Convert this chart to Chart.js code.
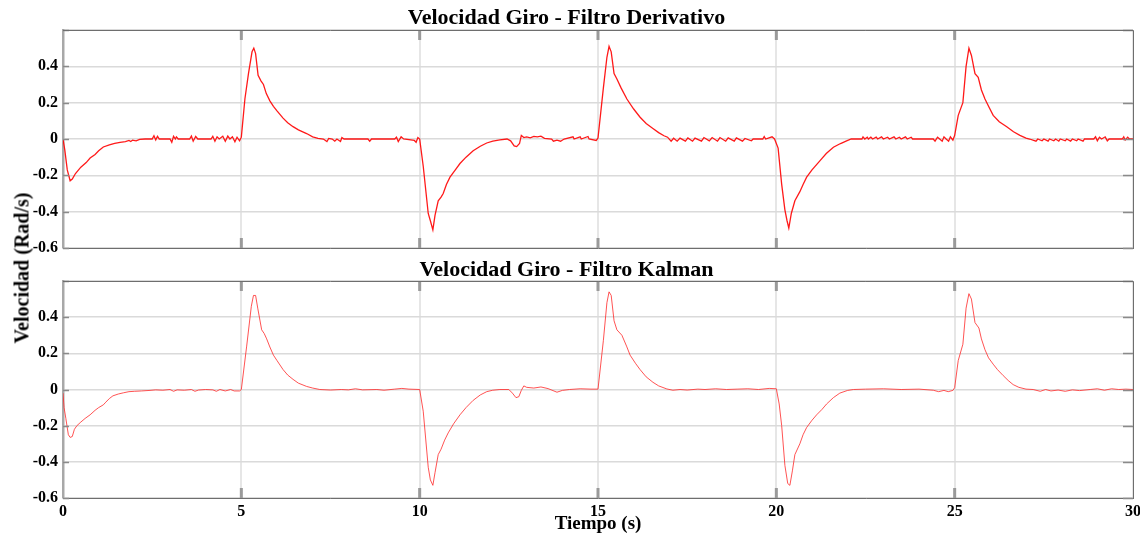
<!DOCTYPE html>
<html lang="es">
<head>
<meta charset="utf-8">
<title>Velocidad Giro</title>
<script src="https://cdn.jsdelivr.net/npm/chart.js@4.4.1/dist/chart.umd.min.js"></script>
<style>
  html, body { margin: 0; padding: 0; background: #fff; }
  #wrap { position: relative; width: 1140px; height: 538px; overflow: hidden; }
  #topCanvas { position: absolute; left: 0; top: 0; }
  #botCanvas { position: absolute; left: 0; top: 255px; }
  #yTitle {
    position: absolute; left: 22px; top: 268px;
    transform: translate(-50%, -50%) rotate(-90deg);
    font: bold 20px "Liberation Serif", "Times New Roman", serif;
    white-space: nowrap; color: #000;
  }
</style>
</head>
<body>
<div id="wrap">
  <canvas id="topCanvas" width="1140" height="255"></canvas>
  <canvas id="botCanvas" width="1140" height="283"></canvas>
  <div id="yTitle">Velocidad (Rad/s)</div>
</div>
<script>
// --- Data
const titles = ['Velocidad Giro - Filtro Derivativo', 'Velocidad Giro - Filtro Kalman'];
const xTitle = 'Tiempo (s)';
const xTicks = [0, 5, 10, 15, 20, 25, 30];
const yTicks = [-0.6, -0.4, -0.2, 0, 0.2, 0.4, 0.6];

// derivative filter: time (s) and rate (rad/s)
const derivT = [
  0.00, 0.05, 0.12, 0.20, 0.26, 0.35, 0.50, 0.65, 0.76, 0.90, 1.00, 1.13, 1.30, 1.45, 1.60, 1.75, 1.85, 1.90, 1.95, 2.05,
  2.15, 2.30, 2.50, 2.55, 2.60, 2.65, 2.70, 3.00, 3.05, 3.10, 3.15, 3.18, 3.23, 3.55, 3.60, 3.65, 3.72, 3.78, 4.15, 4.20,
  4.26, 4.32, 4.38, 4.48, 4.55, 4.62, 4.68, 4.75, 4.82, 4.88, 4.95, 5.00, 5.10, 5.20, 5.30, 5.35, 5.40, 5.47, 5.55, 5.62,
  5.70, 5.80, 5.90, 6.00, 6.17, 6.30, 6.45, 6.60, 6.83, 7.00, 7.15, 7.30, 7.40, 7.45, 7.55, 7.62, 7.68, 7.78, 7.82, 7.88,
  8.55, 8.60, 8.65, 9.30, 9.35, 9.40, 9.48, 9.55, 9.85, 9.90, 9.95, 10.00, 10.10, 10.24, 10.30, 10.37, 10.43, 10.52, 10.60, 10.66,
  10.75, 10.85, 11.00, 11.13, 11.30, 11.50, 11.70, 11.88, 12.05, 12.25, 12.45, 12.55, 12.65, 12.72, 12.80, 12.85, 12.92, 13.00, 13.10, 13.20,
  13.30, 13.40, 13.50, 13.70, 13.75, 13.85, 13.95, 14.05, 14.30, 14.33, 14.50, 14.53, 14.72, 14.75, 14.95, 15.00, 15.15, 15.25, 15.31, 15.37,
  15.45, 15.53, 15.65, 15.81, 16.00, 16.18, 16.35, 16.54, 16.70, 16.85, 16.95, 17.05, 17.12, 17.22, 17.30, 17.45, 17.52, 17.65, 17.72, 17.90,
  17.97, 18.12, 18.20, 18.35, 18.42, 18.58, 18.65, 18.82, 18.88, 19.05, 19.12, 19.30, 19.35, 19.62, 19.66, 19.70, 19.88, 19.95, 20.05, 20.15,
  20.24, 20.30, 20.35, 20.42, 20.52, 20.66, 20.75, 20.85, 21.00, 21.22, 21.40, 21.60, 21.80, 21.97, 22.10, 22.40, 22.43, 22.48, 22.55, 22.58,
  22.65, 22.70, 22.80, 22.84, 22.95, 23.00, 23.12, 23.17, 23.30, 23.35, 23.45, 23.50, 23.62, 23.67, 23.78, 23.82, 24.40, 24.45, 24.52, 24.58,
  24.65, 24.70, 24.76, 24.83, 24.88, 24.95, 25.00, 25.10, 25.23, 25.32, 25.40, 25.47, 25.57, 25.66, 25.75, 25.85, 25.95, 26.08, 26.25, 26.46,
  26.65, 26.83, 27.00, 27.10, 27.28, 27.33, 27.45, 27.50, 27.62, 27.66, 27.78, 27.83, 27.92, 27.96, 28.10, 28.14, 28.25, 28.30, 28.42, 28.46,
  28.60, 28.64, 28.90, 28.95, 29.00, 29.06, 29.12, 29.22, 29.28, 29.33, 29.70, 29.74, 29.78, 29.85, 29.90, 30.00
];
const derivV = [
  0.00, -0.06, -0.17, -0.23, -0.22, -0.19, -0.155, -0.13, -0.105, -0.085, -0.065, -0.044, -0.032, -0.024, -0.018, -0.014, -0.008, -0.014, -0.006, -0.010,
  -0.002, 0, 0, 0.018, -0.005, 0.015, 0, 0, -0.018, 0.015, 0, 0.012, 0, 0, 0.016, -0.012, 0.014, 0, 0, 0.015,
  -0.012, 0.012, 0, 0.015, -0.012, 0.016, 0, 0.012, -0.015, 0.01, -0.01, 0.01, 0.22, 0.36, 0.48, 0.50, 0.47, 0.35, 0.32, 0.30,
  0.25, 0.21, 0.18, 0.155, 0.115, 0.09, 0.068, 0.05, 0.03, 0.012, 0.004, 0, -0.014, 0.003, 0, -0.012, 0, -0.014, 0.008, 0,
  0, -0.012, 0, 0, 0.01, -0.014, 0.012, 0, -0.008, -0.018, 0.008, 0, -0.15, -0.41, -0.45, -0.50, -0.42, -0.34, -0.32, -0.30,
  -0.25, -0.21, -0.17, -0.135, -0.10, -0.065, -0.04, -0.022, -0.012, -0.005, 0, -0.01, -0.038, -0.042, -0.025, 0.02, 0.008, 0.012, 0.006, 0.014,
  0.012, 0.016, 0.004, 0, -0.012, -0.006, -0.012, 0, 0.012, 0, 0.012, 0, 0.014, 0, -0.008, 0.005, 0.28, 0.45, 0.51, 0.48,
  0.36, 0.33, 0.28, 0.22, 0.165, 0.12, 0.085, 0.058, 0.035, 0.018, 0.01, -0.012, 0.004, -0.012, 0.005, -0.012, 0.006, -0.012, 0.005, -0.012,
  0.008, -0.01, 0.008, -0.012, 0.008, -0.012, 0.006, -0.012, 0.006, -0.012, 0.003, -0.01, 0, 0, 0.014, 0, 0.012, 0, -0.05, -0.25,
  -0.39, -0.45, -0.49, -0.41, -0.34, -0.29, -0.25, -0.21, -0.17, -0.12, -0.08, -0.045, -0.025, -0.01, 0, 0, 0.012, 0, 0.01, 0,
  0.01, 0, 0.01, 0, 0.012, 0, 0.01, 0, 0.012, 0, 0.01, 0, 0.012, 0, 0.01, 0, 0, -0.012, 0.01, 0,
  -0.012, 0.012, 0, -0.012, 0.012, -0.006, 0.02, 0.13, 0.20, 0.40, 0.50, 0.46, 0.36, 0.34, 0.27, 0.22, 0.18, 0.13, 0.095, 0.067,
  0.04, 0.02, 0.005, 0, -0.012, 0, -0.01, 0, -0.012, 0, -0.01, 0, -0.012, 0, -0.01, 0, -0.012, 0, -0.01, 0,
  -0.012, 0, 0, 0.012, -0.01, 0.01, 0, 0.012, -0.01, 0, 0, 0.012, -0.006, 0.01, 0, 0
];

// kalman filter: time (s) and rate (rad/s)
const kalmanT = [
  0.00, 0.03, 0.08, 0.15, 0.20, 0.26, 0.32, 0.39, 0.50, 0.62, 0.76, 0.90, 1.00, 1.13, 1.20, 1.30, 1.40, 1.55, 1.70, 1.85,
  2.00, 2.20, 2.44, 2.60, 2.80, 3.00, 3.10, 3.20, 3.40, 3.60, 3.70, 3.80, 4.00, 4.20, 4.30, 4.40, 4.55, 4.70, 4.80, 4.95,
  5.00, 5.15, 5.28, 5.34, 5.40, 5.46, 5.57, 5.64, 5.71, 5.80, 5.90, 6.00, 6.17, 6.30, 6.45, 6.60, 6.83, 7.00, 7.20, 7.50,
  7.80, 8.00, 8.20, 8.40, 8.80, 9.00, 9.30, 9.50, 9.70, 10.00, 10.10, 10.24, 10.30, 10.37, 10.43, 10.52, 10.60, 10.70, 10.80, 10.95,
  11.13, 11.30, 11.50, 11.70, 11.88, 12.05, 12.25, 12.50, 12.60, 12.70, 12.78, 12.85, 12.92, 13.00, 13.20, 13.40, 13.60, 13.85, 14.00, 14.20,
  14.50, 14.80, 15.00, 15.15, 15.25, 15.31, 15.37, 15.45, 15.53, 15.67, 15.80, 15.90, 16.05, 16.18, 16.35, 16.54, 16.70, 16.93, 17.10, 17.30,
  17.50, 17.80, 18.00, 18.30, 18.60, 18.90, 19.20, 19.50, 19.80, 20.00, 20.08, 20.15, 20.24, 20.32, 20.38, 20.45, 20.52, 20.66, 20.75, 20.85,
  21.00, 21.13, 21.28, 21.41, 21.60, 21.78, 22.00, 22.16, 22.50, 23.00, 23.50, 24.00, 24.40, 24.55, 24.70, 24.82, 24.95, 25.00, 25.10, 25.23,
  25.32, 25.40, 25.47, 25.57, 25.68, 25.75, 25.85, 25.95, 26.08, 26.20, 26.36, 26.50, 26.64, 26.80, 27.00, 27.20, 27.40, 27.55, 27.70, 27.90,
  28.10, 28.30, 28.50, 28.80, 29.00, 29.20, 29.40, 29.60, 29.80, 30.00
];
const kalmanV = [
  -0.02, -0.10, -0.16, -0.25, -0.265, -0.26, -0.22, -0.20, -0.18, -0.16, -0.14, -0.115, -0.10, -0.085, -0.07, -0.05, -0.035, -0.025, -0.018, -0.012,
  -0.01, -0.008, -0.005, -0.002, -0.004, 0, -0.01, -0.002, -0.004, 0, -0.01, -0.003, 0, -0.002, -0.01, 0, -0.008, 0, -0.008, -0.008,
  0, 0.24, 0.46, 0.52, 0.52, 0.45, 0.33, 0.31, 0.28, 0.235, 0.19, 0.16, 0.11, 0.08, 0.056, 0.035, 0.017, 0.008, 0, -0.003,
  0, -0.002, 0.004, -0.002, 0, -0.004, 0.002, 0.006, 0.002, 0, -0.12, -0.43, -0.50, -0.53, -0.46, -0.36, -0.33, -0.28, -0.24, -0.19,
  -0.14, -0.10, -0.06, -0.03, -0.012, -0.004, 0, 0, -0.02, -0.045, -0.04, -0.005, 0.02, 0.012, 0.008, 0.014, 0.005, -0.015, -0.005, 0,
  0.004, 0.002, 0.002, 0.27, 0.48, 0.54, 0.52, 0.38, 0.33, 0.30, 0.24, 0.19, 0.145, 0.11, 0.07, 0.04, 0.02, 0.003, -0.004, 0,
  -0.003, 0.002, 0, 0.004, 0, 0.002, 0.004, 0, 0.006, 0.004, -0.08, -0.20, -0.42, -0.52, -0.53, -0.45, -0.36, -0.30, -0.25, -0.21,
  -0.17, -0.14, -0.11, -0.08, -0.045, -0.02, -0.005, 0, 0.002, 0.004, 0, 0.002, -0.004, -0.012, -0.005, -0.012, -0.005, 0.01, 0.16, 0.25,
  0.45, 0.53, 0.50, 0.37, 0.34, 0.28, 0.22, 0.175, 0.14, 0.11, 0.077, 0.05, 0.027, 0.012, 0.002, 0, -0.01, 0, -0.008, -0.003,
  -0.01, -0.002, -0.006, 0, 0.004, -0.004, 0.004, 0, 0.002, 0
];

// --- Helpers
const SERIF = '"Liberation Serif", "Times New Roman", serif';

function fmtTick(v) {
  const r = Math.round(v * 10) / 10;
  if (r === 0) return '0';
  if (Math.abs(r - 0.6) < 1e-9) return '';   // top tick has no label
  return r.toFixed(1);
}

// box around the plot + small inner tick marks (matlab style)
const boxPlugin = {
  id: 'box',
  afterDatasetsDraw(chart) {
    const { ctx, chartArea: a, scales: { x, y } } = chart;
    ctx.save();
    ctx.strokeStyle = '#9a9a9a';
    ctx.lineWidth = 3;
    ctx.beginPath();
    xTicks.forEach(t => {
      if (t === 0 || t === 30) return;
      const px = x.getPixelForValue(t);
      ctx.moveTo(px, a.top); ctx.lineTo(px, a.top + 10);
      ctx.moveTo(px, a.bottom); ctx.lineTo(px, a.bottom - 10);
    });
    ctx.stroke();
    ctx.lineWidth = 1.5;
    ctx.strokeStyle = '#8a8a8a';
    ctx.beginPath();
    yTicks.forEach(t => {
      const py = Math.round(y.getPixelForValue(t)) + 0.5;
      ctx.moveTo(a.left, py); ctx.lineTo(a.left + 6, py);
      ctx.moveTo(a.right, py); ctx.lineTo(a.right - 10, py);
    });
    ctx.stroke();
    ctx.strokeStyle = '#6e6e6e';
    ctx.lineWidth = 1;
    ctx.beginPath();
    ctx.moveTo(a.left, a.top + 0.5); ctx.lineTo(a.right + 0.5, a.top + 0.5);
    ctx.lineTo(a.right + 0.5, a.bottom);
    ctx.stroke();
    ctx.restore();
  }
};

function makeChart(canvasId, title, t, v, color, width, isBottom) {
  const ctx = document.getElementById(canvasId).getContext('2d');
  return new Chart(ctx, {
    type: 'line',
    data: {
      datasets: [{
        data: t.map((tt, i) => ({ x: tt, y: v[i] })),
        borderColor: color,
        borderWidth: width,
        pointRadius: 0,
        tension: 0,
        fill: false
      }]
    },
    options: {
      responsive: false,
      animation: false,
      devicePixelRatio: 1,
      layout: { padding: { left: 0, right: 7, top: 0, bottom: 0 } },
      plugins: {
        legend: { display: false },
        tooltip: { enabled: false },
        title: {
          display: true,
          text: title,
          color: '#000',
          font: { family: SERIF, size: 22, weight: 'bold', lineHeight: 1.0 },
          padding: isBottom ? { top: 4, bottom: 0 } : { top: 7, bottom: 1 }
        }
      },
      scales: {
        x: {
          type: 'linear',
          min: 0, max: 30,
          afterBuildTicks: s => { s.ticks = xTicks.map(value => ({ value })); },
          afterFit: s => {
            s.height = isBottom ? 40 : 7;
            s.paddingLeft = 0; s.paddingRight = 0;
          },
          grid: { color: '#e6e6e6', lineWidth: 2, drawTicks: false },
          border: { color: '#6e6e6e', width: 1 },
          ticks: {
            display: isBottom,
            padding: 4,
            color: '#000',
            font: { family: SERIF, size: 16, weight: 'bold' }
          },
          title: {
            display: isBottom,
            text: xTitle,
            color: '#000',
            font: { family: SERIF, size: 19, weight: 'bold', lineHeight: 1.0 },
            padding: { top: 0, bottom: 4 }
          }
        },
        y: {
          min: -0.6, max: 0.6,
          afterBuildTicks: s => { s.ticks = yTicks.map(value => ({ value })); },
          afterFit: s => {
            s.width = 63;
            s.paddingTop = 0; s.paddingBottom = 0;
          },
          grid: { color: '#dadada', lineWidth: 1.5, drawTicks: false },
          border: { color: '#a8a8a8', width: 2.5 },
          ticks: {
            padding: 5,
            color: '#000',
            font: { family: SERIF, size: 16, weight: 'bold' },
            callback: fmtTick
          }
        }
      }
    },
    plugins: [boxPlugin]
  });
}

// --- Charts
makeChart('topCanvas', titles[0], derivT, derivV, 'rgba(255,0,0,0.9)', 1.3, false);
makeChart('botCanvas', titles[1], kalmanT, kalmanV, 'rgba(255,40,40,0.8)', 1, true);
</script>
</body>
</html>
